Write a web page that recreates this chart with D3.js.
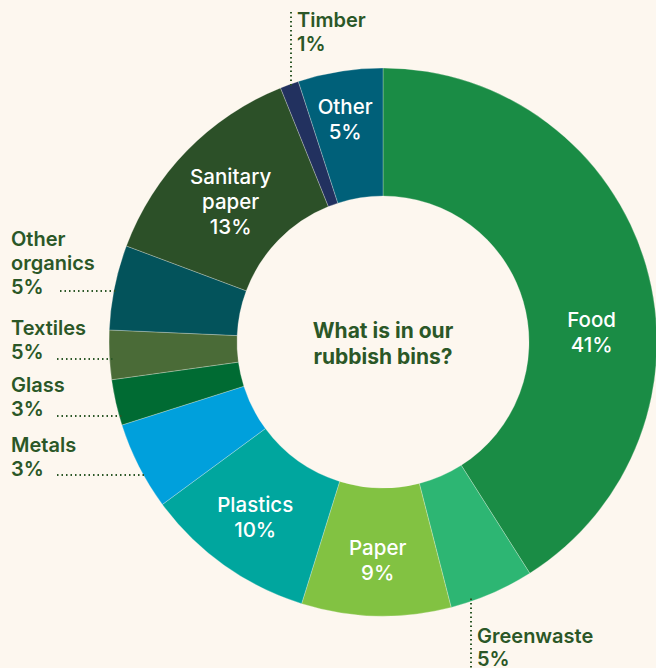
<!DOCTYPE html>
<html>
<head>
<meta charset="utf-8">
<script src="https://cdn.jsdelivr.net/npm/d3@7"></script>
<style>
  html, body { margin: 0; padding: 0; background: #fdf7ef; }
  svg { display: block; }
</style>
</head>
<body>
<div id="chart"></div>
<script>
// slice order runs clockwise from 12 o'clock
const categories = ["Food", "Greenwaste", "Paper", "Plastics", "Metals", "Glass", "Textiles", "Other organics", "Sanitary paper", "Timber", "Other"];
// arc sizes (share of the ring, %)
const values = [41, 5, 8.8, 10.1, 5.2, 2.7, 2.9, 5, 13.2, 1.1, 5];
// percentages as printed on the labels
const labelPct = ["41%", "5%", "9%", "10%", "3%", "3%", "5%", "5%", "13%", "1%", "5%"];
const colors = ["#1a8c45", "#2db673", "#82c242", "#00a69e", "#00a0dc", "#006b33", "#4a6b37", "#03535b", "#2c5028", "#22315f", "#006079"];

const width = 656, height = 668;
const cx = 383, cy = 342;
const outerR = 274, innerR = 146;
const textColor = "#2b5727";

const svg = d3.select("#chart").append("svg")
  .attr("width", width)
  .attr("height", height)
  .style("background", "#fdf7ef")
  .style("font-family", "Inter, 'Open Sans', sans-serif");

const pie = d3.pie().sort(null).value((d) => d.value);
const arcs = pie(categories.map((c, i) => ({ name: c, value: values[i], pct: labelPct[i], color: colors[i] })));

const arc = d3.arc().innerRadius(innerR).outerRadius(outerR);

const g = svg.append("g").attr("transform", `translate(${cx},${cy})`);

g.selectAll("path")
  .data(arcs)
  .join("path")
  .attr("d", arc)
  .attr("fill", (d) => d.data.color)
  .attr("stroke", "#fdf7ef")
  .attr("stroke-opacity", 0.35)
  .attr("stroke-width", 0.8);

// labels inside the ring (white), nudged from the arc centroid
const inside = {
  "Food": [7, 49],
  "Paper": [0, 9],
  "Plastics": [-6, 4],
  "Sanitary paper": [-2, 7],
  "Other": [-5, -15]
};
const labelR = (innerR + outerR) / 2;
const inArc = d3.arc().innerRadius(labelR).outerRadius(labelR);

const insideLabels = g.append("g")
  .attr("fill", "#fff")
  .attr("text-anchor", "middle")
  .style("font-size", "20.5px")
  .style("font-weight", 500);

arcs.filter((d) => inside[d.data.name]).forEach((d) => {
  const [x0, y0] = inArc.centroid(d);
  const [ox, oy] = inside[d.data.name];
  const x = x0 + ox, y = y0 + oy;
  const lines = d.data.name === "Sanitary paper" ? ["Sanitary", "paper", d.data.pct] : [d.data.name, d.data.pct];
  const t = insideLabels.append("text")
    .attr("x", x)
    .attr("y", y - (lines.length - 1) * 12.5 + 7);
  lines.forEach((l, i) => {
    t.append("tspan").attr("x", x).attr("dy", i === 0 ? 0 : 25).text(l);
  });
});

// outside labels, left column with horizontal dotted leaders
const left = [
  { name: "Other organics", lines: ["Other", "organics", "5%"], y: 246, lead: 291, x0: 60 },
  { name: "Textiles", lines: ["Textiles", "5%"], y: 335, lead: 359, x0: 57 },
  { name: "Glass", lines: ["Glass", "3%"], y: 392, lead: 416, x0: 57 },
  { name: "Metals", lines: ["Metals", "3%"], y: 452, lead: 475, x0: 57 }
];

const outG = svg.append("g")
  .attr("fill", textColor)
  .style("font-size", "20px")
  .style("font-weight", 600);

left.forEach((l) => {
  const t = outG.append("text").attr("x", 11).attr("y", l.y);
  l.lines.forEach((s, i) => t.append("tspan").attr("x", 11).attr("dy", i === 0 ? 0 : 24).text(s));
  const dy = l.lead - cy;
  const xEnd = cx - Math.sqrt(outerR * outerR - dy * dy) + 3;
  svg.append("line")
    .attr("x1", l.x0).attr("x2", xEnd)
    .attr("y1", l.lead).attr("y2", l.lead)
    .attr("stroke", textColor)
    .attr("stroke-width", 2)
    .attr("stroke-dasharray", "1.5 3");
});

// Timber: vertical leader going up
const timber = arcs.find((d) => d.data.name === "Timber");
{
  const x = 291;
  const yEnd = cy - Math.sqrt(outerR * outerR - (x - cx) * (x - cx)) + 3;
  svg.append("line")
    .attr("x1", x).attr("x2", x).attr("y1", 12).attr("y2", yEnd)
    .attr("stroke", textColor).attr("stroke-width", 2).attr("stroke-dasharray", "1.5 3");
  const t = outG.append("text").attr("x", 297).attr("y", 27);
  ["Timber", timber.data.pct].forEach((s, i) => t.append("tspan").attr("x", 297).attr("dy", i === 0 ? 0 : 24).text(s));
}

// Greenwaste: vertical leader going down
const green = arcs.find((d) => d.data.name === "Greenwaste");
{
  const x = 471;
  const yStart = cy + Math.sqrt(outerR * outerR - (x - cx) * (x - cx)) - 3;
  svg.append("line")
    .attr("x1", x).attr("x2", x).attr("y1", yStart).attr("y2", 668)
    .attr("stroke", textColor).attr("stroke-width", 2).attr("stroke-dasharray", "1.5 3");
  const t = outG.append("text").attr("x", 477).attr("y", 643);
  ["Greenwaste", green.data.pct].forEach((s, i) => t.append("tspan").attr("x", 477).attr("dy", i === 0 ? 0 : 23).text(s));
}

// centre title
const title = svg.append("text")
  .attr("text-anchor", "middle")
  .attr("fill", textColor)
  .style("font-size", "21px")
  .style("font-weight", 700)
  .attr("x", cx).attr("y", 338);
title.append("tspan").attr("x", cx).text("What is in our");
title.append("tspan").attr("x", cx).attr("dy", 26).text("rubbish bins?");
</script>
</body>
</html>
